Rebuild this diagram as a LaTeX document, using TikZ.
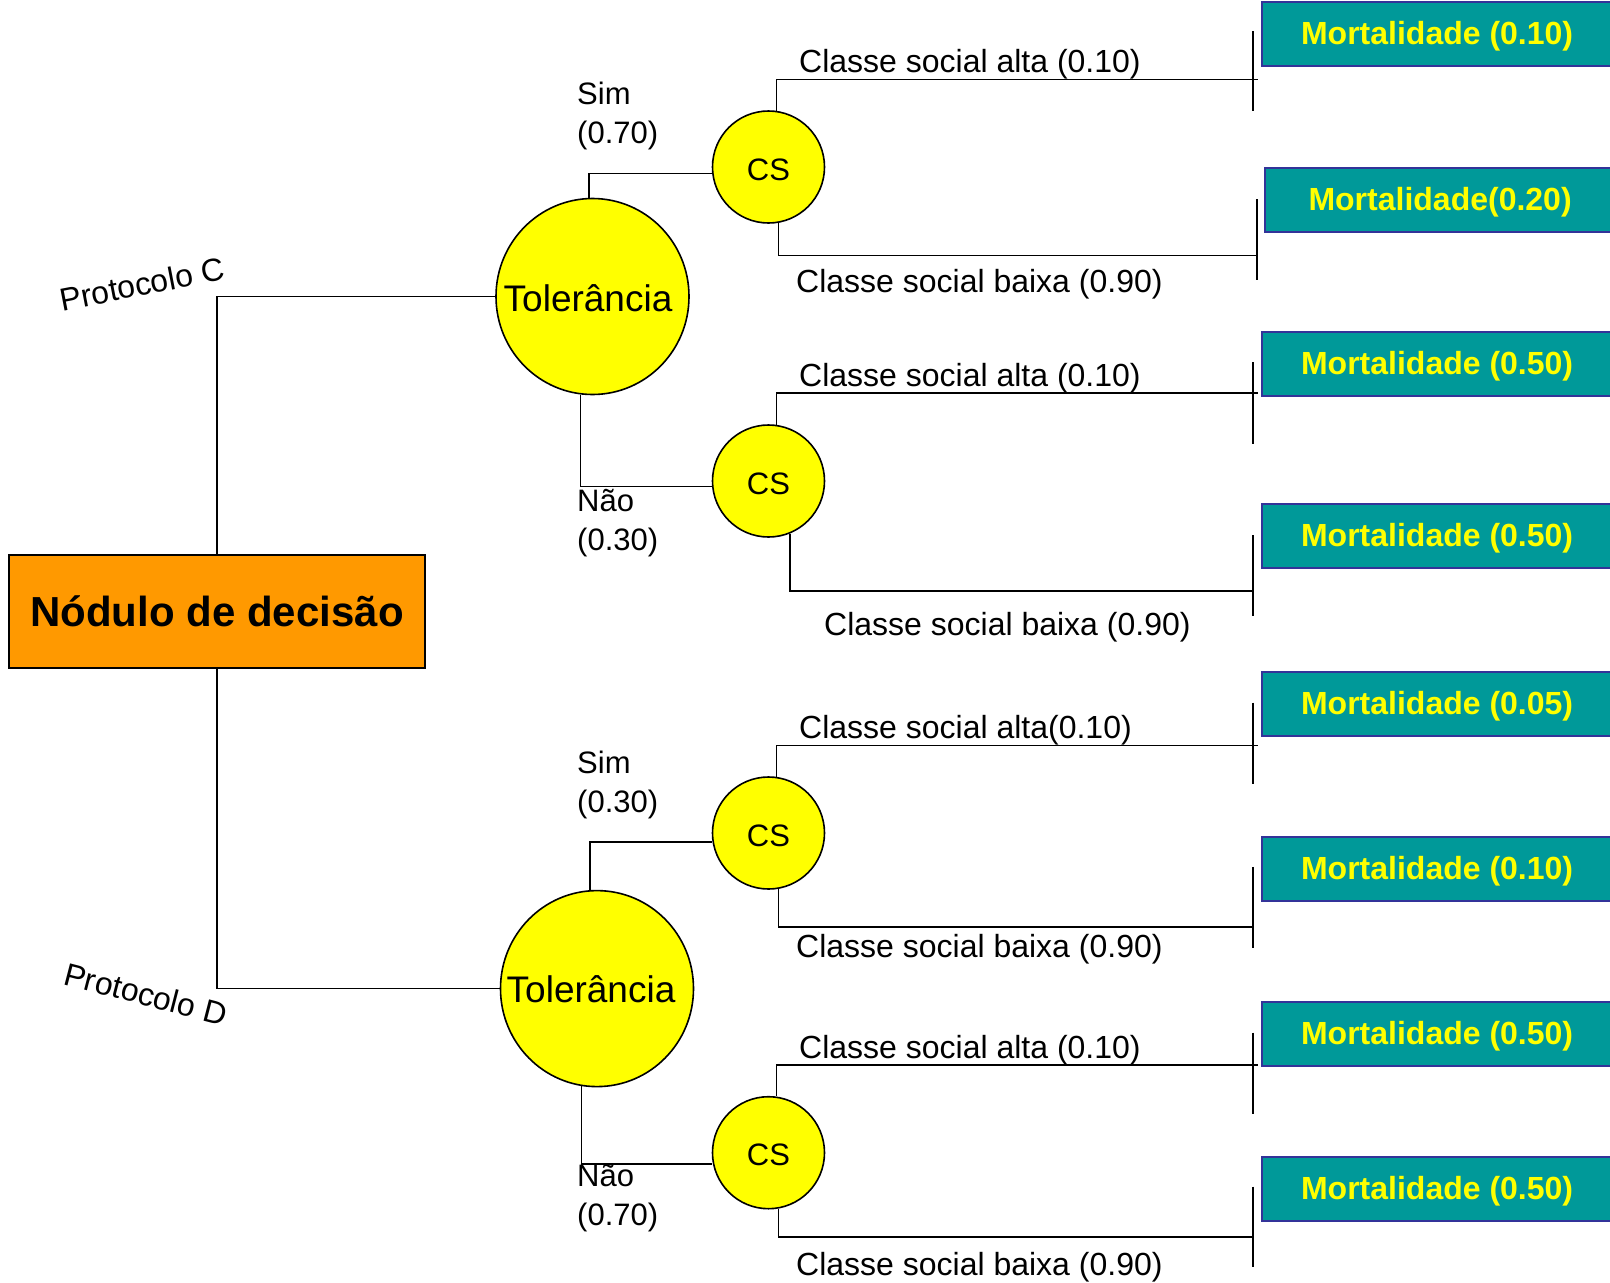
\documentclass[tikz,border=0pt]{standalone}
\usepackage{fontspec}
\setmainfont{Liberation Sans}
\usetikzlibrary{shapes.geometric}

\definecolor{outcomefill}{RGB}{0,153,153}
\definecolor{outcomeedge}{RGB}{51,51,153}
\definecolor{outcometext}{RGB}{255,255,0}
\definecolor{decisionfill}{RGB}{255,153,0}
\definecolor{chancefill}{RGB}{255,255,0}

\begin{document}
\begin{tikzpicture}[x=1pt,y=-1pt,
  wire/.style={line width=1.6pt, black},
  endbar/.style={line width=1.5pt, black},
  decisionbox/.style={draw=black, line width=1.8pt, fill=decisionfill,
    minimum width=416pt, minimum height=113pt, inner sep=0pt,
    font=\fontsize{42}{50}\selectfont\bfseries},
  tolnode/.style={ellipse, draw=black, line width=1.6pt, fill=chancefill,
    minimum width=193pt, minimum height=196pt, inner sep=0pt},
  toltext/.style={inner sep=0pt, font=\fontsize{37}{44}\selectfont},
  csnode/.style={circle, draw=black, line width=1.6pt, fill=chancefill,
    minimum size=112pt, inner sep=0pt, text height=26pt, text depth=0pt,
    font=\fontsize{31}{37}\selectfont},
  outcome/.style={draw=outcomeedge, line width=2.2pt, fill=outcomefill,
    text=outcometext, anchor=north west, minimum width=350pt,
    minimum height=64pt, inner sep=0pt, text height=23pt, text depth=2.2pt,
    font=\fontsize{32}{38}\selectfont\bfseries},
  lbl/.style={inner sep=0pt, anchor=west, font=\fontsize{32}{38}\selectfont},
  problbl/.style={inner sep=0pt, anchor=west, align=left,
    font=\fontsize{31}{39}\selectfont},
  protolbl/.style={inner sep=0pt, font=\fontsize{32}{38}\selectfont},
]
\useasboundingbox (0,0) rectangle (1610,1283);

% decision node
\node[decisionbox] (dec) at (217,611.5) {Nódulo de decisão};

% tolerance chance nodes
\node[tolnode] (tolC) at (592.5,296.5) {};
\node[toltext] (tolCtxt) at (588,298) {Tolerância};
\node[tolnode] (tolD) at (597,988.6) {};
\node[toltext] (tolDtxt) at (591,989.4) {Tolerância};

% social class chance nodes
\node[csnode] (csA) at (768.5,167) {CS};
\node[csnode] (csB) at (768.5,481) {CS};
\node[csnode] (csC) at (768.5,833) {CS};
\node[csnode] (csD) at (768.5,1152.7) {CS};

% outcome boxes
\node[outcome] (m1) at (1261,1)      {Mortalidade (0.10)};
\node[outcome] (m2) at (1264,167)    {Mortalidade(0.20)};
\node[outcome] (m3) at (1261,331)    {Mortalidade (0.50)};
\node[outcome] (m4) at (1261,503)    {Mortalidade (0.50)};
\node[outcome] (m5) at (1261,671)    {Mortalidade (0.05)};
\node[outcome] (m6) at (1261,835.6)  {Mortalidade (0.10)};
\node[outcome] (m7) at (1261,1001)   {Mortalidade (0.50)};
\node[outcome] (m8) at (1261,1155.5) {Mortalidade (0.50)};

% branch ends
\coordinate (t1) at (1258,79.5);
\coordinate (t2) at (1256,255.5);
\coordinate (t3) at (1257.5,393);
\coordinate (t4) at (1253,591);
\coordinate (t5) at (1257.5,745.4);
\coordinate (t6) at (1253,927);
\coordinate (t7) at (1257.5,1064.8);
\coordinate (t8) at (1253,1237);

% terminal bars
\draw[endbar] (1253,31) -- (1253,111);
\draw[endbar] (1257,199) -- (1257,280);
\draw[endbar] (1253,362) -- (1253,444);
\draw[endbar] (1253,535) -- (1253,615.5);
\draw[endbar] (1253,702.7) -- (1253,784);
\draw[endbar] (1253,866.8) -- (1253,948.4);
\draw[endbar] (1253,1032.5) -- (1253,1113.6);
\draw[endbar] (1253,1186.6) -- (1253,1267.4);

% decision branches
\draw[wire] (dec.north) |- (tolC.west);
\draw[wire] (dec.south) |- (tolD.west);

% tolerance branches
\draw[wire] (tolC.92) |- ([yshift=-6.5pt]csA.west);
\draw[wire] (tolC.-97) |- ([yshift=-5.5pt]csB.west);
\draw[wire] (tolD.94.5) |- ([yshift=-9pt]csC.west);
\draw[wire] (tolD.-99.5) |- ([yshift=-11.3pt]csD.west);

% social class branches
\draw[wire] (csA.82) |- (t1);
\draw[wire] (csA.-80.5) |- (t2);
\draw[wire] (csB.82) |- (t3);
\draw[wire] (csB.-68.5) |- (t4);
\draw[wire] (csC.82) |- (t5);
\draw[wire] (csC.-80.5) |- (t6);
\draw[wire] (csD.82) |- (t7);
\draw[wire] (csD.-80.5) |- (t8);

% protocol labels
\node[protolbl, rotate=11] (protC) at (142,284) {Protocolo C};
\node[protolbl, rotate=-14.5] (protD) at (146,994) {Protocolo D};

% tolerance probabilities
\node[problbl] (simC) at (577,115.5) {Sim\\(0.70)};
\node[problbl] (naoC) at (577,523) {Não\\(0.30)};
\node[problbl] (simD) at (577,784.5) {Sim\\(0.30)};
\node[problbl] (naoD) at (577,1198.5) {Não\\(0.70)};

% social class probabilities
\node[lbl] (c1) at (799,64.5)    {Classe social alta (0.10)};
\node[lbl] (c2) at (796,284)     {Classe social baixa (0.90)};
\node[lbl] (c3) at (799,378)     {Classe social alta (0.10)};
\node[lbl] (c4) at (824,627)     {Classe social baixa (0.90)};
\node[lbl] (c5) at (799,730.5)   {Classe social alta(0.10)};
\node[lbl] (c6) at (796,949)     {Classe social baixa (0.90)};
\node[lbl] (c7) at (799,1050.5)  {Classe social alta (0.10)};
\node[lbl] (c8) at (796,1267.5)  {Classe social baixa (0.90)};
\end{tikzpicture}
\end{document}
